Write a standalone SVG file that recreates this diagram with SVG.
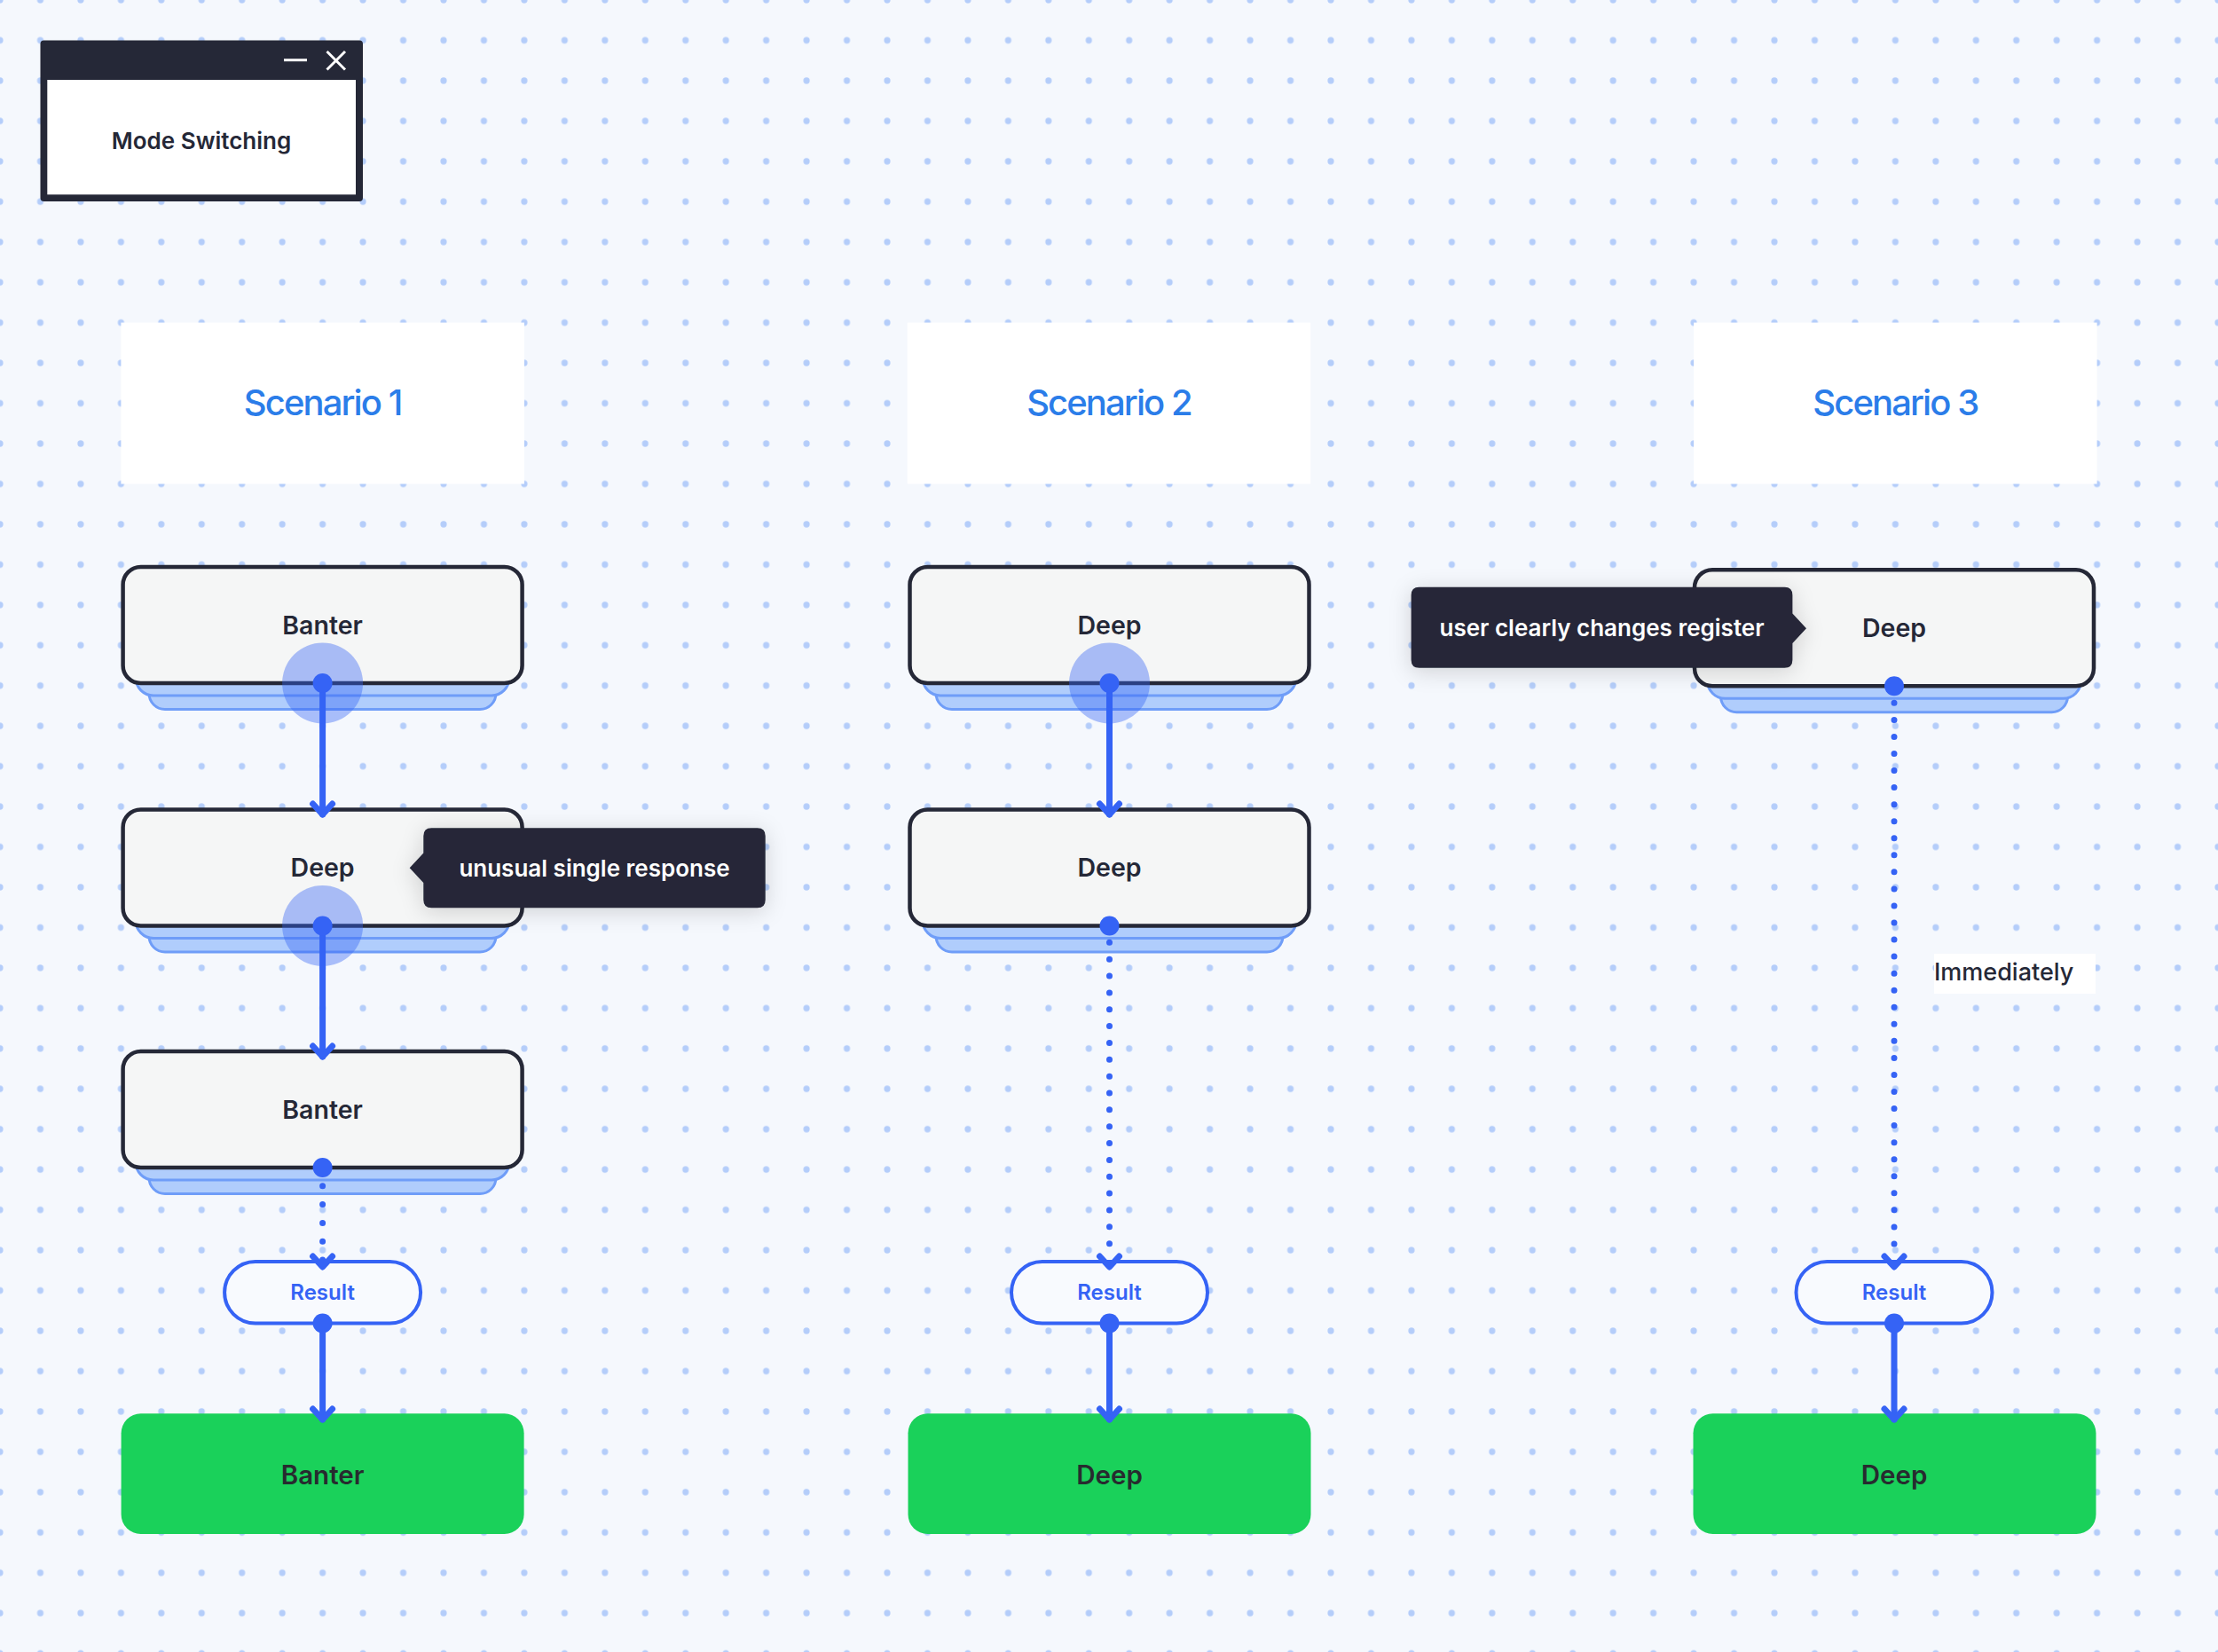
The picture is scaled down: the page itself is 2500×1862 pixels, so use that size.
<svg xmlns="http://www.w3.org/2000/svg" width="2500" height="1862" viewBox="0 0 2500 1862">
<defs>
<pattern id="grid" x="-22.7273" y="-22.7273" width="45.4545" height="45.4545" patternUnits="userSpaceOnUse">
<circle cx="22.7273" cy="22.7273" r="3.6" fill="#b4cdfa"/>
</pattern>
<filter id="shadow" x="-20%" y="-40%" width="140%" height="180%">
<feDropShadow dx="0" dy="4" stdDeviation="12" flood-color="#000" flood-opacity="0.16"/>
</filter>
<style>
text{font-family:Inter,"Liberation Sans",sans-serif;font-weight:500}
.hdr{fill:#ffffff}
.hdrt{font-size:40px;fill:#2b7de9;text-anchor:middle;letter-spacing:-1.9px}
.node{fill:#f5f6f6;stroke:#252837;stroke-width:4.5}
.layer{fill:#b0cdfc;stroke:#6f9df8;stroke-width:3}
.nt{font-size:28.5px;fill:#252837;text-anchor:middle;font-weight:600}
.green{fill:#1ad15a}
.gt{font-size:29.5px;fill:#272b2f;text-anchor:middle;font-weight:600}
.pill{fill:#f8fafe;stroke:#3563f5;stroke-width:4}
.pt{font-size:24px;fill:#3563f5;text-anchor:middle;font-weight:600}
.solid{stroke:#3563f5;stroke-width:7;fill:none;stroke-linecap:round}
.dot{stroke:#3563f5;stroke-width:7;fill:none;stroke-linecap:round}
.chev{stroke:#3563f5;stroke-width:7;fill:none;stroke-linecap:round;stroke-linejoin:round}
.halo{fill:#3563f5;fill-opacity:0.4}
.handle{fill:#3563f5}
.tip{fill:#252837}
.tipt{font-size:26px;fill:#ffffff;text-anchor:middle;font-weight:600}
</style>
</defs>
<rect width="2500" height="1862" fill="#f5f8fd"/>
<rect width="2500" height="1862" fill="url(#grid)"/>

<g id="title-window">
<rect x="45.5" y="45.5" width="363.5" height="181.5" rx="4" fill="#252837"/>
<rect x="53.3" y="90" width="347.7" height="129.3" fill="#ffffff"/>
<line x1="320" y1="67.7" x2="346" y2="67.7" stroke="#ffffff" stroke-width="3"/>
<path d="M368.5 58 L389 78.5 M389 58 L368.5 78.5" stroke="#ffffff" stroke-width="3" fill="none"/>
<text x="227" y="168" style="font-size:26px;fill:#252837;text-anchor:middle;font-weight:600">Mode Switching</text>
</g>

<g id="scenario-1-header">
<rect class="hdr" x="136.4" y="363.6" width="454.5" height="181.8"/>
<text class="hdrt" x="363.6" y="467.7">Scenario 1</text>
</g>
<g id="scenario-2-header">
<rect class="hdr" x="1022.7" y="363.6" width="454.5" height="181.8"/>
<text class="hdrt" x="1250" y="467.7">Scenario 2</text>
</g>
<g id="scenario-3-header">
<rect class="hdr" x="1909.1" y="363.6" width="454.5" height="181.8"/>
<text class="hdrt" x="2136.4" y="467.7">Scenario 3</text>
</g>

<!-- Scenario 1 nodes -->
<g id="s1-banter-1">
<rect class="layer" x="168" y="730" width="391" height="69.5" rx="18"/>
<rect class="layer" x="153" y="730" width="421" height="54" rx="20"/>
<rect class="node" x="138.6" y="639" width="450" height="131" rx="20"/>
<text class="nt" x="363.6" y="714.5">Banter</text>
</g>
<g id="s1-deep">
<rect class="layer" x="168" y="1003.5" width="391" height="69.5" rx="18"/>
<rect class="layer" x="153" y="1003.5" width="421" height="54" rx="20"/>
<rect class="node" x="138.6" y="912.5" width="450" height="131" rx="20"/>
<text class="nt" x="363.6" y="988">Deep</text>
</g>
<g id="s1-banter-2">
<rect class="layer" x="168" y="1276" width="391" height="69.5" rx="18"/>
<rect class="layer" x="153" y="1276" width="421" height="54" rx="20"/>
<rect class="node" x="138.6" y="1185" width="450" height="131" rx="20"/>
<text class="nt" x="363.6" y="1260.5">Banter</text>
</g>
<g id="s1-result">
<rect class="pill" x="253.1" y="1422" width="221" height="69.5" rx="34.75"/>
<text class="pt" x="363.6" y="1465">Result</text>
</g>
<g id="s1-final">
<rect class="green" x="136.6" y="1593.3" width="454" height="135.7" rx="22"/>
<text class="gt" x="363.6" y="1672.7">Banter</text>
</g>

<!-- Scenario 2 nodes -->
<g id="s2-deep-1">
<rect class="layer" x="1055" y="730" width="391" height="69.5" rx="18"/>
<rect class="layer" x="1040" y="730" width="421" height="54" rx="20"/>
<rect class="node" x="1025.5" y="639" width="450" height="131" rx="20"/>
<text class="nt" x="1250.5" y="714.5">Deep</text>
</g>
<g id="s2-deep-2">
<rect class="layer" x="1055" y="1003.5" width="391" height="69.5" rx="18"/>
<rect class="layer" x="1040" y="1003.5" width="421" height="54" rx="20"/>
<rect class="node" x="1025.5" y="912.5" width="450" height="131" rx="20"/>
<text class="nt" x="1250.5" y="988">Deep</text>
</g>
<g id="s2-result">
<rect class="pill" x="1140" y="1422" width="221" height="69.5" rx="34.75"/>
<text class="pt" x="1250.5" y="1465">Result</text>
</g>
<g id="s2-final">
<rect class="green" x="1023.5" y="1593.3" width="454" height="135.7" rx="22"/>
<text class="gt" x="1250.5" y="1672.7">Deep</text>
</g>

<!-- Scenario 3 nodes -->
<g id="s3-deep">
<rect class="layer" x="1939.5" y="733.3" width="391" height="69.5" rx="18"/>
<rect class="layer" x="1924.5" y="733.3" width="421" height="54" rx="20"/>
<rect class="node" x="1910" y="642.3" width="450" height="131" rx="20"/>
<text class="nt" x="2135" y="717.5">Deep</text>
</g>
<g id="s3-result">
<rect class="pill" x="2024.5" y="1422" width="221" height="69.5" rx="34.75"/>
<text class="pt" x="2135" y="1465">Result</text>
</g>
<g id="s3-final">
<rect class="green" x="1908.5" y="1593.3" width="454" height="135.7" rx="22"/>
<text class="gt" x="2135" y="1672.7">Deep</text>
</g>

<g id="connectors">
<line class="solid" x1="363.6" y1="770" x2="363.6" y2="918"/>
<path class="chev" d="M352.6 906 L363.6 918 L374.6 906"/>
<line class="solid" x1="363.6" y1="1043.5" x2="363.6" y2="1191"/>
<path class="chev" d="M352.6 1179 L363.6 1191 L374.6 1179"/>
<line class="dot" x1="363.6" y1="1316" x2="363.6" y2="1420" stroke-dasharray="0 20.8"/>
<path class="chev" d="M352.6 1416 L363.6 1428 L374.6 1416"/>
<line class="solid" x1="363.6" y1="1491.5" x2="363.6" y2="1600"/>
<path class="chev" d="M352.6 1588 L363.6 1600 L374.6 1588"/>

<line class="solid" x1="1250.5" y1="770" x2="1250.5" y2="918"/>
<path class="chev" d="M1239.5 906 L1250.5 918 L1261.5 906"/>
<line class="dot" x1="1250.5" y1="1043.5" x2="1250.5" y2="1420" stroke-dasharray="0 18.85"/>
<path class="chev" d="M1239.5 1416 L1250.5 1428 L1261.5 1416"/>
<line class="solid" x1="1250.5" y1="1491.5" x2="1250.5" y2="1600"/>
<path class="chev" d="M1239.5 1588 L1250.5 1600 L1261.5 1588"/>

<line class="dot" x1="2135" y1="773.3" x2="2135" y2="1420" stroke-dasharray="0 19.05"/>
<path class="chev" d="M2124 1416 L2135 1428 L2146 1416"/>
<line class="solid" x1="2135" y1="1491.5" x2="2135" y2="1600"/>
<path class="chev" d="M2124 1588 L2135 1600 L2146 1588"/>
</g>

<g id="ports">
<circle class="halo" cx="363.6" cy="770" r="45.5"/>
<circle class="halo" cx="363.6" cy="1043.5" r="45.5"/>
<circle class="halo" cx="1250.5" cy="770" r="45.5"/>
<circle class="handle" cx="363.6" cy="770" r="11"/>
<circle class="handle" cx="363.6" cy="1043.5" r="11"/>
<circle class="handle" cx="363.6" cy="1316" r="11"/>
<circle class="handle" cx="363.6" cy="1491.5" r="11"/>
<circle class="handle" cx="1250.5" cy="770" r="11"/>
<circle class="handle" cx="1250.5" cy="1043.5" r="11"/>
<circle class="handle" cx="1250.5" cy="1491.5" r="11"/>
<circle class="handle" cx="2135" cy="773.3" r="11"/>
<circle class="handle" cx="2135" cy="1491.5" r="11"/>
</g>

<g id="label-immediately">
<rect x="2180" y="1075" width="182" height="45" fill="#ffffff"/>
<text x="2180" y="1105" style="font-size:27px;fill:#252837">Immediately</text>
</g>

<g id="tooltip-unusual">
<path class="tip" filter="url(#shadow)" d="M486.3 933.3 H853.7 Q862.7 933.3 862.7 942.3 V1014.3 Q862.7 1023.3 853.7 1023.3 H486.3 Q477.3 1023.3 477.3 1014.3 V995 L461.7 978.3 L477.3 961.6 V942.3 Q477.3 933.3 486.3 933.3 Z"/>
<text class="tipt" x="670" y="987.5">unusual single response</text>
</g>
<g id="tooltip-register">
<path class="tip" filter="url(#shadow)" d="M1599.6 661.7 H2011.4 Q2020.4 661.7 2020.4 670.7 V691.5 L2036 708.2 L2020.4 724.9 V743.7 Q2020.4 752.7 2011.4 752.7 H1599.6 Q1590.6 752.7 1590.6 743.7 V670.7 Q1590.6 661.7 1599.6 661.7 Z"/>
<text class="tipt" x="1805.5" y="716.7">user clearly changes register</text>
</g>
</svg>
